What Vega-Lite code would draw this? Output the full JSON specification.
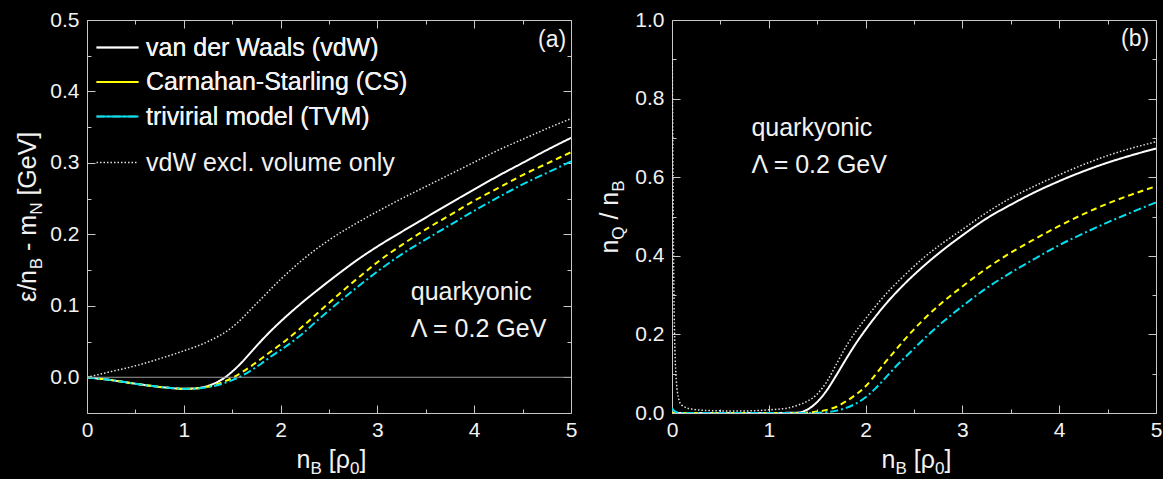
{
"$schema": "https://vega.github.io/schema/vega-lite/v6.json",
"background": "black",
"padding": {"left": 15, "top": 9, "right": 5, "bottom": 5},
"bounds": "flush",
"spacing": 101,
"datasets": {
"a": [
{"x":0,"y":0,"m":"vdW"},{"x":0.25,"y":-0.004,"m":"vdW"},{"x":0.5,"y":-0.009,"m":"vdW"},{"x":0.75,"y":-0.0135,"m":"vdW"},{"x":1,"y":-0.016,"m":"vdW"},{"x":1.1,"y":-0.0158,"m":"vdW"},{"x":1.2,"y":-0.0138,"m":"vdW"},{"x":1.3,"y":-0.0095,"m":"vdW"},{"x":1.4,"y":-0.0025,"m":"vdW"},{"x":1.5,"y":0.008,"m":"vdW"},{"x":1.6,"y":0.021,"m":"vdW"},{"x":1.7,"y":0.036,"m":"vdW"},{"x":1.8,"y":0.051,"m":"vdW"},{"x":1.9,"y":0.065,"m":"vdW"},{"x":2,"y":0.078,"m":"vdW"},{"x":2.2,"y":0.102,"m":"vdW"},{"x":2.4,"y":0.124,"m":"vdW"},{"x":2.6,"y":0.145,"m":"vdW"},{"x":2.8,"y":0.165,"m":"vdW"},{"x":3,"y":0.183,"m":"vdW"},{"x":3.25,"y":0.2035,"m":"vdW"},{"x":3.5,"y":0.2235,"m":"vdW"},{"x":3.75,"y":0.2435,"m":"vdW"},{"x":4,"y":0.263,"m":"vdW"},{"x":4.25,"y":0.282,"m":"vdW"},{"x":4.5,"y":0.3,"m":"vdW"},{"x":4.75,"y":0.318,"m":"vdW"},{"x":5,"y":0.335,"m":"vdW"},
{"x":0,"y":0,"m":"CS"},{"x":0.25,"y":-0.004,"m":"CS"},{"x":0.5,"y":-0.009,"m":"CS"},{"x":0.75,"y":-0.0135,"m":"CS"},{"x":1,"y":-0.016,"m":"CS"},{"x":1.1,"y":-0.016,"m":"CS"},{"x":1.2,"y":-0.0145,"m":"CS"},{"x":1.3,"y":-0.0115,"m":"CS"},{"x":1.4,"y":-0.007,"m":"CS"},{"x":1.5,"y":-0.001,"m":"CS"},{"x":1.6,"y":0.007,"m":"CS"},{"x":1.7,"y":0.016,"m":"CS"},{"x":1.8,"y":0.026,"m":"CS"},{"x":1.9,"y":0.036,"m":"CS"},{"x":2,"y":0.046,"m":"CS"},{"x":2.2,"y":0.068,"m":"CS"},{"x":2.4,"y":0.092,"m":"CS"},{"x":2.6,"y":0.116,"m":"CS"},{"x":2.8,"y":0.139,"m":"CS"},{"x":3,"y":0.161,"m":"CS"},{"x":3.25,"y":0.185,"m":"CS"},{"x":3.5,"y":0.207,"m":"CS"},{"x":3.75,"y":0.227,"m":"CS"},{"x":4,"y":0.247,"m":"CS"},{"x":4.25,"y":0.265,"m":"CS"},{"x":4.5,"y":0.283,"m":"CS"},{"x":4.75,"y":0.299,"m":"CS"},{"x":5,"y":0.315,"m":"CS"},
{"x":0,"y":0,"m":"TVM"},{"x":0.25,"y":-0.004,"m":"TVM"},{"x":0.5,"y":-0.009,"m":"TVM"},{"x":0.75,"y":-0.0135,"m":"TVM"},{"x":1,"y":-0.016,"m":"TVM"},{"x":1.1,"y":-0.016,"m":"TVM"},{"x":1.2,"y":-0.0148,"m":"TVM"},{"x":1.3,"y":-0.0125,"m":"TVM"},{"x":1.4,"y":-0.009,"m":"TVM"},{"x":1.5,"y":-0.004,"m":"TVM"},{"x":1.6,"y":0.002,"m":"TVM"},{"x":1.7,"y":0.01,"m":"TVM"},{"x":1.8,"y":0.019,"m":"TVM"},{"x":1.9,"y":0.029,"m":"TVM"},{"x":2,"y":0.038,"m":"TVM"},{"x":2.2,"y":0.058,"m":"TVM"},{"x":2.4,"y":0.082,"m":"TVM"},{"x":2.6,"y":0.105,"m":"TVM"},{"x":2.8,"y":0.127,"m":"TVM"},{"x":3,"y":0.148,"m":"TVM"},{"x":3.25,"y":0.172,"m":"TVM"},{"x":3.5,"y":0.193,"m":"TVM"},{"x":3.75,"y":0.213,"m":"TVM"},{"x":4,"y":0.233,"m":"TVM"},{"x":4.25,"y":0.252,"m":"TVM"},{"x":4.5,"y":0.27,"m":"TVM"},{"x":4.75,"y":0.286,"m":"TVM"},{"x":5,"y":0.302,"m":"TVM"},
{"x":0,"y":0,"m":"excl"},{"x":0.25,"y":0.008,"m":"excl"},{"x":0.5,"y":0.016,"m":"excl"},{"x":0.75,"y":0.026,"m":"excl"},{"x":1,"y":0.037,"m":"excl"},{"x":1.25,"y":0.05,"m":"excl"},{"x":1.5,"y":0.07,"m":"excl"},{"x":1.75,"y":0.103,"m":"excl"},{"x":2,"y":0.137,"m":"excl"},{"x":2.25,"y":0.167,"m":"excl"},{"x":2.5,"y":0.192,"m":"excl"},{"x":2.75,"y":0.213,"m":"excl"},{"x":3,"y":0.232,"m":"excl"},{"x":3.25,"y":0.25,"m":"excl"},{"x":3.5,"y":0.267,"m":"excl"},{"x":3.75,"y":0.284,"m":"excl"},{"x":4,"y":0.301,"m":"excl"},{"x":4.25,"y":0.318,"m":"excl"},{"x":4.5,"y":0.333,"m":"excl"},{"x":4.75,"y":0.348,"m":"excl"},{"x":5,"y":0.362,"m":"excl"}
],
"b": [
{"x":0,"y":0,"m":"vdW"},{"x":0.5,"y":0,"m":"vdW"},{"x":1,"y":0,"m":"vdW"},{"x":1.3,"y":0.001,"m":"vdW"},{"x":1.4,"y":0.009,"m":"vdW"},{"x":1.5,"y":0.028,"m":"vdW"},{"x":1.6,"y":0.058,"m":"vdW"},{"x":1.7,"y":0.097,"m":"vdW"},{"x":1.8,"y":0.138,"m":"vdW"},{"x":1.9,"y":0.177,"m":"vdW"},{"x":2,"y":0.212,"m":"vdW"},{"x":2.2,"y":0.275,"m":"vdW"},{"x":2.4,"y":0.328,"m":"vdW"},{"x":2.6,"y":0.374,"m":"vdW"},{"x":2.8,"y":0.415,"m":"vdW"},{"x":3,"y":0.452,"m":"vdW"},{"x":3.25,"y":0.495,"m":"vdW"},{"x":3.5,"y":0.53,"m":"vdW"},{"x":3.75,"y":0.562,"m":"vdW"},{"x":4,"y":0.59,"m":"vdW"},{"x":4.25,"y":0.615,"m":"vdW"},{"x":4.5,"y":0.637,"m":"vdW"},{"x":4.75,"y":0.656,"m":"vdW"},{"x":5,"y":0.673,"m":"vdW"},
{"x":0,"y":0,"m":"CS"},{"x":1,"y":0,"m":"CS"},{"x":1.3,"y":0,"m":"CS"},{"x":1.45,"y":0.002,"m":"CS"},{"x":1.6,"y":0.008,"m":"CS"},{"x":1.7,"y":0.016,"m":"CS"},{"x":1.8,"y":0.03,"m":"CS"},{"x":1.9,"y":0.047,"m":"CS"},{"x":2,"y":0.068,"m":"CS"},{"x":2.1,"y":0.097,"m":"CS"},{"x":2.2,"y":0.128,"m":"CS"},{"x":2.3,"y":0.157,"m":"CS"},{"x":2.4,"y":0.186,"m":"CS"},{"x":2.6,"y":0.238,"m":"CS"},{"x":2.8,"y":0.283,"m":"CS"},{"x":3,"y":0.322,"m":"CS"},{"x":3.25,"y":0.368,"m":"CS"},{"x":3.5,"y":0.408,"m":"CS"},{"x":3.75,"y":0.443,"m":"CS"},{"x":4,"y":0.476,"m":"CS"},{"x":4.25,"y":0.506,"m":"CS"},{"x":4.5,"y":0.533,"m":"CS"},{"x":4.75,"y":0.556,"m":"CS"},{"x":5,"y":0.577,"m":"CS"},
{"x":0,"y":0.012,"m":"TVM"},{"x":0.03,"y":0.004,"m":"TVM"},{"x":0.08,"y":0,"m":"TVM"},{"x":1,"y":0,"m":"TVM"},{"x":1.4,"y":0,"m":"TVM"},{"x":1.6,"y":0.002,"m":"TVM"},{"x":1.7,"y":0.006,"m":"TVM"},{"x":1.8,"y":0.013,"m":"TVM"},{"x":1.9,"y":0.024,"m":"TVM"},{"x":2,"y":0.04,"m":"TVM"},{"x":2.1,"y":0.062,"m":"TVM"},{"x":2.2,"y":0.088,"m":"TVM"},{"x":2.3,"y":0.115,"m":"TVM"},{"x":2.4,"y":0.14,"m":"TVM"},{"x":2.5,"y":0.164,"m":"TVM"},{"x":2.6,"y":0.188,"m":"TVM"},{"x":2.8,"y":0.232,"m":"TVM"},{"x":3,"y":0.272,"m":"TVM"},{"x":3.25,"y":0.318,"m":"TVM"},{"x":3.5,"y":0.357,"m":"TVM"},{"x":3.75,"y":0.393,"m":"TVM"},{"x":4,"y":0.427,"m":"TVM"},{"x":4.25,"y":0.457,"m":"TVM"},{"x":4.5,"y":0.485,"m":"TVM"},{"x":4.75,"y":0.511,"m":"TVM"},{"x":5,"y":0.536,"m":"TVM"},
{"x":0.003,"y":0.9,"m":"excl"},{"x":0.01,"y":0.6,"m":"excl"},{"x":0.02,"y":0.3,"m":"excl"},{"x":0.04,"y":0.1,"m":"excl"},{"x":0.07,"y":0.035,"m":"excl"},{"x":0.1,"y":0.02,"m":"excl"},{"x":0.2,"y":0.01,"m":"excl"},{"x":0.4,"y":0.006,"m":"excl"},{"x":0.7,"y":0.005,"m":"excl"},{"x":1,"y":0.008,"m":"excl"},{"x":1.2,"y":0.013,"m":"excl"},{"x":1.3,"y":0.02,"m":"excl"},{"x":1.4,"y":0.03,"m":"excl"},{"x":1.5,"y":0.048,"m":"excl"},{"x":1.6,"y":0.08,"m":"excl"},{"x":1.7,"y":0.125,"m":"excl"},{"x":1.8,"y":0.17,"m":"excl"},{"x":1.9,"y":0.208,"m":"excl"},{"x":2,"y":0.24,"m":"excl"},{"x":2.2,"y":0.3,"m":"excl"},{"x":2.4,"y":0.35,"m":"excl"},{"x":2.6,"y":0.395,"m":"excl"},{"x":2.8,"y":0.433,"m":"excl"},{"x":3,"y":0.467,"m":"excl"},{"x":3.25,"y":0.51,"m":"excl"},{"x":3.5,"y":0.547,"m":"excl"},{"x":3.75,"y":0.578,"m":"excl"},{"x":4,"y":0.606,"m":"excl"},{"x":4.25,"y":0.632,"m":"excl"},{"x":4.5,"y":0.655,"m":"excl"},{"x":4.75,"y":0.674,"m":"excl"},{"x":5,"y":0.69,"m":"excl"}
]
},
"hconcat": [
{
"width": 484, "height": 393,
"resolve": {"scale": {"stroke": "independent"}, "axis": {"x": "independent", "y": "independent"}},
"layer": [
{
"data": {"name": "a"},
"transform": [{"filter": "datum.m !== 'excl'"}],
"mark": {"type": "line", "strokeWidth": 2, "clip": true, "interpolate": "monotone"},
"encoding": {
"x": {"field": "x", "type": "quantitative", "scale": {"domain": [0, 5], "nice": false, "zero": false},
 "axis": {"orient": "bottom", "values": [0,1,2,3,4,5], "format": "d", "tickSize": -8, "labelPadding": 14, "title": "n", "titleX": 209, "titleY": 54, "titleFontSize": 25}},
"y": {"field": "y", "type": "quantitative", "scale": {"domain": [-0.05, 0.5], "nice": false, "zero": false},
 "axis": {"orient": "left", "values": [0,0.1,0.2,0.3,0.4,0.5], "format": ".1f", "tickSize": -8, "labelPadding": 16, "title": "ε/n", "titleX": -52, "titleY": 281.5, "titleAngle": 270, "titleFontSize": 25}},
"stroke": {"field": "m", "type": "nominal", "scale": {"domain": ["vdW","CS","TVM"], "range": ["#ffffff","#ffff00","#00e0f0"]},
 "legend": {"title": null, "orient": "none", "legendX": 18, "legendY": 15, "symbolType": "M-2,0H2", "symbolSize": 441, "labelOffset": 16, "rowPadding": 8.5, "padding": 0, "labelLimit": 0,
  "labelExpr": "{'vdW':'van der Waals (vdW)','CS':'Carnahan-Starling (CS)','TVM':'trivirial model (TVM)'}[datum.label]"}},
"strokeDash": {"field": "m", "type": "nominal", "scale": {"domain": ["vdW","CS","TVM"], "range": [[1,0],[6,4],[8,3,2,3]]},
 "legend": {"title": null, "orient": "none", "legendX": 18, "legendY": 15, "symbolType": "M-2,0H2", "symbolSize": 441, "labelOffset": 16, "rowPadding": 8.5, "padding": 0, "labelLimit": 0,
  "labelExpr": "{'vdW':'van der Waals (vdW)','CS':'Carnahan-Starling (CS)','TVM':'trivirial model (TVM)'}[datum.label]"}}
}
},
{
"data": {"name": "a"},
"transform": [{"filter": "datum.m === 'excl'"}],
"mark": {"type": "line", "strokeWidth": 1.5, "strokeDash": [1.5, 2], "clip": true, "interpolate": "monotone"},
"encoding": {
"x": {"field": "x", "type": "quantitative", "scale": {"domain": [0, 5], "nice": false, "zero": false},
 "axis": {"orient": "bottom", "values": [0.5,1.5,2.5,3.5,4.5], "tickSize": -4, "labels": false, "domain": false, "title": "B", "titleX": 222.9, "titleY": 60, "titleFontSize": 17}},
"y": {"field": "y", "type": "quantitative", "scale": {"domain": [-0.05, 0.5], "nice": false, "zero": false},
 "axis": {"orient": "left", "values": [0.05,0.15,0.25,0.35,0.45], "tickSize": -4, "labels": false, "domain": false, "title": "B", "titleX": -46, "titleY": 248.7, "titleAngle": 270, "titleFontSize": 17}},
"stroke": {"field": "m", "type": "nominal", "scale": {"domain": ["excl"], "range": ["#e0e0e0"]},
 "legend": {"title": null, "orient": "none", "legendX": 18, "legendY": 130, "symbolType": "M-2,0H2", "symbolSize": 441, "symbolDash": [1.5, 2], "symbolStrokeWidth": 1.5, "labelOffset": 16, "padding": 0, "labelLimit": 0,
  "labelExpr": "'vdW excl. volume only'"}}
}
},
{
"data": {"values": [{"x": 0, "x2": 5, "y": 0}]},
"mark": {"type": "rule", "color": "#9a9a9a", "strokeWidth": 1},
"encoding": {
"x": {"field": "x", "type": "quantitative", "scale": {"domain": [0, 5], "nice": false, "zero": false},
 "axis": {"orient": "top", "values": [0,1,2,3,4,5], "tickSize": -8, "labels": false, "title": "[ρ", "titleX": 241.2, "titleY": 447, "titleFontSize": 25}},
"x2": {"field": "x2"},
"y": {"field": "y", "type": "quantitative", "scale": {"domain": [-0.05, 0.5], "nice": false, "zero": false},
 "axis": {"orient": "right", "values": [0,0.1,0.2,0.3,0.4,0.5], "tickSize": -8, "labels": false, "title": "- m", "titleX": -536, "titleY": 230.45, "titleAngle": 270, "titleFontSize": 25}}
}
},
{
"data": {"values": [{"x": 4.95, "y": 0.472, "t": "(a)"}]},
"mark": {"type": "text", "align": "right", "baseline": "middle", "fontSize": 23, "color": "#f2f2f2"},
"encoding": {
"x": {"field": "x", "type": "quantitative", "scale": {"domain": [0, 5], "nice": false, "zero": false},
 "axis": {"orient": "top", "values": [0.5,1.5,2.5,3.5,4.5], "tickSize": -4, "labels": false, "domain": false, "title": "0", "titleX": 262.6, "titleY": 453, "titleFontSize": 17}},
"y": {"field": "y", "type": "quantitative", "scale": {"domain": [-0.05, 0.5], "nice": false, "zero": false},
 "axis": {"orient": "right", "values": [0.05,0.15,0.25,0.35,0.45], "tickSize": -4, "labels": false, "domain": false, "title": "N", "titleX": -530, "titleY": 194.35, "titleAngle": 270, "titleFontSize": 17}},
"text": {"field": "t"}
}
},
{
"data": {"values": [{"x": 3.345, "y": 0.119, "t": "quarkyonic"}, {"x": 3.345, "y": 0.068, "t": "Λ = 0.2 GeV"}]},
"mark": {"type": "text", "align": "left", "baseline": "middle", "fontSize": 25, "color": "#f2f2f2"},
"encoding": {
"x": {"field": "x", "type": "quantitative", "scale": {"domain": [0, 5], "nice": false, "zero": false},
 "axis": {"orient": "bottom", "ticks": false, "labels": false, "domain": false, "title": "]", "titleX": 272.1, "titleY": 54, "titleFontSize": 25}},
"y": {"field": "y", "type": "quantitative", "scale": {"domain": [-0.05, 0.5], "nice": false, "zero": false},
 "axis": {"orient": "left", "ticks": false, "labels": false, "domain": false, "title": "[GeV]", "titleX": -52, "titleY": 175.1, "titleAngle": 270, "titleFontSize": 25}},
"text": {"field": "t"}
}
}
]
},
{
"width": 484, "height": 393,
"resolve": {"scale": {"stroke": "independent"}, "axis": {"x": "independent", "y": "independent"}},
"layer": [
{
"data": {"name": "b"},
"transform": [{"filter": "datum.m !== 'excl'"}],
"mark": {"type": "line", "strokeWidth": 2, "clip": true, "interpolate": "monotone"},
"encoding": {
"x": {"field": "x", "type": "quantitative", "scale": {"domain": [0, 5], "nice": false, "zero": false},
 "axis": {"orient": "bottom", "values": [0,1,2,3,4,5], "format": "d", "tickSize": -8, "labelPadding": 14, "title": "n", "titleX": 209, "titleY": 54, "titleFontSize": 25}},
"y": {"field": "y", "type": "quantitative", "scale": {"domain": [0, 1], "nice": false, "zero": false},
 "axis": {"orient": "left", "values": [0,0.2,0.4,0.6,0.8,1], "format": ".1f", "tickSize": -8, "labelPadding": 16, "title": "n", "titleX": -55, "titleY": 233.1, "titleAngle": 270, "titleFontSize": 25}},
"stroke": {"field": "m", "type": "nominal", "scale": {"domain": ["vdW","CS","TVM"], "range": ["#ffffff","#ffff00","#00e0f0"]}, "legend": null},
"strokeDash": {"field": "m", "type": "nominal", "scale": {"domain": ["vdW","CS","TVM"], "range": [[1,0],[6,4],[8,3,2,3]]}, "legend": null}
}
},
{
"data": {"name": "b"},
"transform": [{"filter": "datum.m === 'excl'"}],
"mark": {"type": "line", "strokeWidth": 1.5, "strokeDash": [1.5, 2], "clip": true, "color": "#e0e0e0", "interpolate": "monotone"},
"encoding": {
"x": {"field": "x", "type": "quantitative", "scale": {"domain": [0, 5], "nice": false, "zero": false},
 "axis": {"orient": "bottom", "values": [0.5,1.5,2.5,3.5,4.5], "tickSize": -4, "labels": false, "domain": false, "title": "B", "titleX": 222.9, "titleY": 60, "titleFontSize": 17}},
"y": {"field": "y", "type": "quantitative", "scale": {"domain": [0, 1], "nice": false, "zero": false},
 "axis": {"orient": "left", "values": [0.1,0.3,0.5,0.7,0.9], "tickSize": -4, "labels": false, "domain": false, "title": "Q", "titleX": -49, "titleY": 219.2, "titleAngle": 270, "titleFontSize": 17}}
}
},
{
"data": {"values": [{"x": 4.93, "y": 0.951, "t": "(b)"}]},
"mark": {"type": "text", "align": "right", "baseline": "middle", "fontSize": 23, "color": "#f2f2f2"},
"encoding": {
"x": {"field": "x", "type": "quantitative", "scale": {"domain": [0, 5], "nice": false, "zero": false},
 "axis": {"orient": "top", "values": [0,1,2,3,4,5], "tickSize": -8, "labels": false, "title": "[ρ", "titleX": 241.2, "titleY": 447, "titleFontSize": 25}},
"y": {"field": "y", "type": "quantitative", "scale": {"domain": [0, 1], "nice": false, "zero": false},
 "axis": {"orient": "right", "values": [0,0.2,0.4,0.6,0.8,1], "tickSize": -8, "labels": false, "title": "/ n", "titleX": -539, "titleY": 199.05, "titleAngle": 270, "titleFontSize": 25}},
"text": {"field": "t"}
}
},
{
"data": {"values": [{"x": 0.82, "y": 0.724, "t": "quarkyonic"}]},
"mark": {"type": "text", "align": "left", "baseline": "middle", "fontSize": 25, "color": "#f2f2f2"},
"encoding": {
"x": {"field": "x", "type": "quantitative", "scale": {"domain": [0, 5], "nice": false, "zero": false},
 "axis": {"orient": "top", "values": [0.5,1.5,2.5,3.5,4.5], "tickSize": -4, "labels": false, "domain": false, "title": "0", "titleX": 262.6, "titleY": 453, "titleFontSize": 17}},
"y": {"field": "y", "type": "quantitative", "scale": {"domain": [0, 1], "nice": false, "zero": false},
 "axis": {"orient": "right", "values": [0.1,0.3,0.5,0.7,0.9], "tickSize": -4, "labels": false, "domain": false, "title": "B", "titleX": -533, "titleY": 171.25, "titleAngle": 270, "titleFontSize": 17}},
"text": {"field": "t"}
}
},
{
"data": {"values": [{"x": 0.82, "y": 0.631, "t": "Λ = 0.2 GeV"}]},
"mark": {"type": "text", "align": "left", "baseline": "middle", "fontSize": 25, "color": "#f2f2f2"},
"encoding": {
"x": {"field": "x", "type": "quantitative", "scale": {"domain": [0, 5], "nice": false, "zero": false},
 "axis": {"orient": "bottom", "ticks": false, "labels": false, "domain": false, "title": "]", "titleX": 272.1, "titleY": 54, "titleFontSize": 25}},
"y": {"field": "y", "type": "quantitative", "scale": {"domain": [0, 1], "nice": false, "zero": false}, "axis": null},
"text": {"field": "t"}
}
}
]
}
],
"resolve": {"scale": {"stroke": "independent", "strokeDash": "independent"}},
"config": {
"view": {"stroke": null},
"font": "Liberation Sans",
"axis": {"grid": false, "labelFont": "Liberation Sans", "labelFontSize": 21, "labelColor": "#f2f2f2", "labelFlush": false, "labelOverlap": false, "domainColor": "#c8c8c8", "tickColor": "#c8c8c8", "domainWidth": 1, "tickWidth": 1, "titleFont": "Liberation Sans", "titleColor": "#f2f2f2", "titleFontWeight": "normal", "titleAlign": "left", "titleBaseline": "alphabetic"},
"legend": {"labelFont": "Liberation Sans", "labelFontSize": 25, "labelColor": "#f2f2f2", "symbolStrokeWidth": 2, "symbolFillColor": "transparent", "labelLimit": 0},
"text": {"font": "Liberation Sans"}
}
}
